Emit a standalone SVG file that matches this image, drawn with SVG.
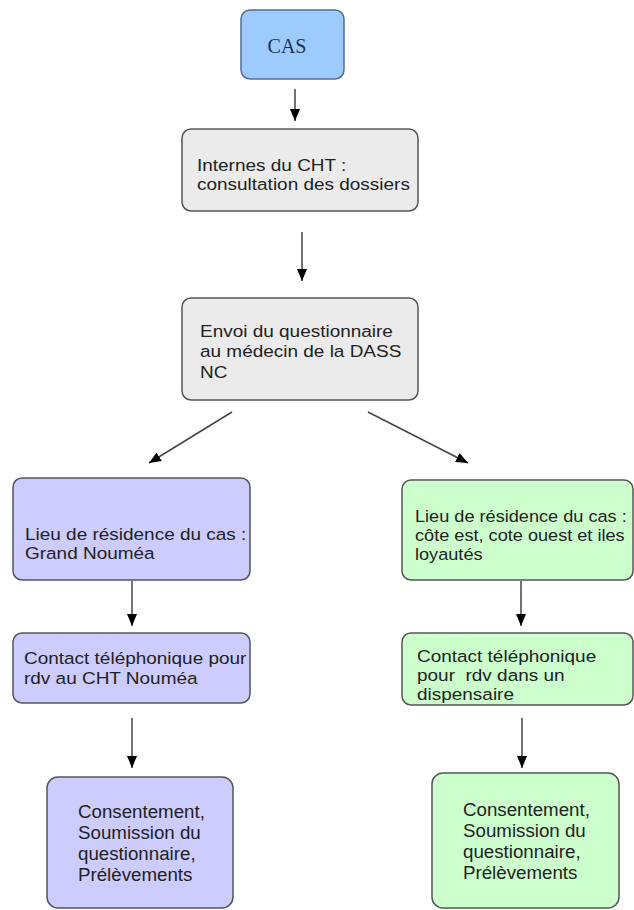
<svg xmlns="http://www.w3.org/2000/svg" width="634" height="910" viewBox="0 0 634 910">
<defs>
<marker id="ah" viewBox="0 0 12 10" refX="12" refY="5" markerWidth="12" markerHeight="10" markerUnits="userSpaceOnUse" orient="auto">
<path d="M0,0 L12,5 L0,10 Z" fill="#000"/>
</marker>
<style>
.box{stroke:#555;stroke-width:1.5}
.cas{fill:#9ecbff;stroke:#4f6d96}
.grey{fill:#ebebeb}
.purple{fill:#ccccff}
.green{fill:#ccffcc}
.t{font-family:"Liberation Sans",Arial,sans-serif;font-size:16.5px;fill:#222}
.tb{font-family:"Liberation Sans",Arial,sans-serif;font-size:18px;fill:#222}
.conn{stroke:#444;stroke-width:1.5;fill:none;marker-end:url(#ah)}
</style>
</defs>
<rect width="634" height="910" fill="#fff"/>
<g id="connectors">
<line class="conn" x1="295" y1="89" x2="295" y2="121"/>
<line class="conn" x1="302" y1="232" x2="302" y2="281"/>
<line class="conn" x1="232" y1="412" x2="149" y2="463"/>
<line class="conn" x1="368" y1="412" x2="468" y2="463"/>
<line class="conn" x1="132" y1="581" x2="132" y2="626"/>
<line class="conn" x1="132" y1="718" x2="132" y2="768"/>
<line class="conn" x1="521" y1="581" x2="521" y2="626"/>
<line class="conn" x1="522" y1="718" x2="522" y2="768"/>
</g>
<g id="cas">
<rect class="box cas" x="241" y="10" width="103" height="69" rx="9"/>
<text x="287" y="53" text-anchor="middle" font-family="'Liberation Serif','Times New Roman',serif" font-size="20" fill="#1f2f55">CAS</text>
</g>
<g id="internes">
<rect class="box grey" x="182" y="129" width="236" height="82" rx="9"/>
<g transform="translate(197 0) scale(1.15 1)">
<text class="t" x="0" y="171">Internes du CHT :</text>
<text class="t" x="0" y="190">consultation des dossiers</text>
</g>
</g>
<g id="envoi">
<rect class="box grey" x="182" y="298" width="236" height="102" rx="9"/>
<g transform="translate(200 0) scale(1.15 1)">
<text class="t" x="0" y="337">Envoi du questionnaire</text>
<text class="t" x="0" y="357">au médecin de la DASS</text>
<text class="t" x="0" y="378">NC</text>
</g>
</g>
<g id="lieu-noumea">
<rect class="box purple" x="13" y="478" width="237" height="102" rx="9"/>
<g transform="translate(25 0) scale(1.15 1)">
<text class="t" x="0" y="540">Lieu de résidence du cas :</text>
<text class="t" x="0" y="559">Grand Nouméa</text>
</g>
</g>
<g id="contact-noumea">
<rect class="box purple" x="13" y="633" width="237" height="70" rx="9"/>
<g transform="translate(24 0) scale(1.15 1)">
<text class="t" x="0" y="664">Contact téléphonique pour</text>
<text class="t" x="0" y="684">rdv au CHT Nouméa</text>
</g>
</g>
<g id="consentement-noumea">
<rect class="box purple" x="47" y="777" width="186" height="131" rx="11"/>
<g transform="translate(78 0) scale(1.04 1)">
<text class="tb" x="0" y="818">Consentement,</text>
<text class="tb" x="0" y="839">Soumission du</text>
<text class="tb" x="0" y="860">questionnaire,</text>
<text class="tb" x="0" y="881">Prélèvements</text>
</g>
</g>
<g id="lieu-cote">
<rect class="box green" x="402" y="480" width="231" height="100" rx="9"/>
<g transform="translate(415 0) scale(1.1 1)">
<text class="t" x="0" y="522">Lieu de résidence du cas :</text>
<text class="t" x="0" y="541">côte est, cote ouest et iles</text>
<text class="t" x="0" y="560">loyautés</text>
</g>
</g>
<g id="contact-dispensaire">
<rect class="box green" x="402" y="633" width="231" height="72" rx="9"/>
<g transform="translate(417 0) scale(1.15 1)">
<text class="t" x="0" y="662" xml:space="preserve">Contact téléphonique</text>
<text class="t" x="0" y="681" xml:space="preserve">pour  rdv dans un</text>
<text class="t" x="0" y="700">dispensaire</text>
</g>
</g>
<g id="consentement-dispensaire">
<rect class="box green" x="432" y="773" width="187" height="135" rx="11"/>
<g transform="translate(463 0) scale(1.04 1)">
<text class="tb" x="0" y="816">Consentement,</text>
<text class="tb" x="0" y="837">Soumission du</text>
<text class="tb" x="0" y="858">questionnaire,</text>
<text class="tb" x="0" y="879">Prélèvements</text>
</g>
</g>
</svg>
